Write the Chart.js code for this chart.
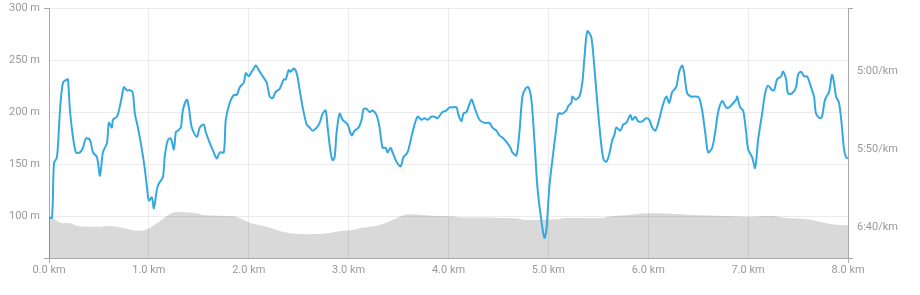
<!DOCTYPE html>
<html>
<head>
<meta charset="utf-8">
<script src="https://cdn.jsdelivr.net/npm/chart.js@4.4.1/dist/chart.umd.min.js"></script>
<style>
  html, body { margin: 0; padding: 0; background: #fff; }
  #wrap { width: 920px; height: 295px; }
</style>
</head>
<body>
<div id="wrap"><canvas id="runChart"></canvas></div>
<script>
// PACE (seconds per km) vs distance
const paceKm = [
  0, 0.03, 0.05, 0.08, 0.11, 0.14, 0.18, 0.19, 0.21, 0.24,
  0.27, 0.31, 0.34, 0.37, 0.41, 0.44, 0.48, 0.51, 0.54, 0.58,
  0.60, 0.63, 0.64, 0.68, 0.70, 0.73, 0.75, 0.78, 0.82, 0.84,
  0.86, 0.89, 0.93, 0.96, 0.98, 1.00, 1.03, 1.05, 1.08, 1.10,
  1.14, 1.16, 1.19, 1.22, 1.25, 1.27, 1.29, 1.32, 1.34, 1.38,
  1.40, 1.43, 1.48, 1.51, 1.55, 1.57, 1.61, 1.65, 1.68, 1.71,
  1.75, 1.77, 1.81, 1.85, 1.88, 1.91, 1.95, 1.97, 2.00, 2.02,
  2.05, 2.07, 2.11, 2.15, 2.18, 2.21, 2.24, 2.27, 2.31, 2.35,
  2.37, 2.40, 2.42, 2.45, 2.48, 2.51, 2.54, 2.58, 2.61, 2.64,
  2.68, 2.71, 2.74, 2.77, 2.79, 2.82, 2.84, 2.86, 2.88, 2.91,
  2.94, 2.99, 3.03, 3.06, 3.10, 3.13, 3.15, 3.18, 3.21, 3.24,
  3.28, 3.31, 3.34, 3.37, 3.39, 3.42, 3.44, 3.48, 3.52, 3.55,
  3.59, 3.64, 3.69, 3.73, 3.76, 3.79, 3.83, 3.86, 3.89, 3.94,
  3.98, 4.01, 4.04, 4.08, 4.10, 4.13, 4.15, 4.18, 4.23, 4.26,
  4.31, 4.36, 4.41, 4.44, 4.48, 4.51, 4.55, 4.59, 4.62, 4.64,
  4.68, 4.71, 4.74, 4.77, 4.80, 4.83, 4.86, 4.89, 4.93, 4.96,
  4.98, 5.01, 5.04, 5.08, 5.10, 5.14, 5.18, 5.20, 5.23, 5.24,
  5.27, 5.31, 5.34, 5.36, 5.39, 5.43, 5.46, 5.49, 5.52, 5.55,
  5.58, 5.61, 5.64, 5.66, 5.68, 5.72, 5.75, 5.78, 5.82, 5.84,
  5.87, 5.90, 5.94, 5.98, 6.01, 6.04, 6.07, 6.10, 6.14, 6.18,
  6.21, 6.24, 6.28, 6.31, 6.34, 6.36, 6.39, 6.43, 6.48, 6.51,
  6.54, 6.57, 6.60, 6.64, 6.67, 6.70, 6.74, 6.78, 6.81, 6.84,
  6.88, 6.89, 6.92, 6.95, 6.98, 7.00, 7.04, 7.07, 7.10, 7.14,
  7.17, 7.20, 7.24, 7.26, 7.29, 7.33, 7.35, 7.38, 7.40, 7.44,
  7.48, 7.50, 7.53, 7.56, 7.59, 7.63, 7.66, 7.68, 7.72, 7.74,
  7.77, 7.81, 7.84, 7.86, 7.88, 7.91, 7.94, 7.96, 7.98, 8.00
];
const paceSec = [
  394, 394, 359, 355, 325, 307, 305, 305, 325, 342,
  352, 352, 349, 343, 344, 352, 355, 367, 352, 346,
  333, 336, 331, 329, 325, 316, 310, 312, 312, 314,
  327, 336, 350, 363, 374, 383, 381, 388, 376, 372,
  368, 354, 344, 343, 350, 339, 338, 336, 325, 318,
  323, 336, 342, 336, 334, 339, 346, 352, 356, 352,
  352, 331, 320, 315, 315, 310, 307, 301, 303, 301,
  298, 296, 300, 304, 307, 316, 317, 313, 311, 305,
  305, 299, 300, 298, 301, 312, 323, 334, 336, 338,
  336, 333, 327, 325, 336, 352, 357, 355, 339, 327,
  331, 334, 341, 338, 336, 331, 324, 324, 326, 325,
  328, 336, 349, 349, 352, 349, 352, 358, 361, 355,
  352, 339, 329, 331, 330, 331, 329, 329, 330, 326,
  325, 323, 323, 323, 328, 332, 327, 326, 318, 323,
  331, 333, 333, 336, 338, 341, 343, 346, 349, 352,
  354, 339, 316, 311, 310, 318, 344, 374, 396, 407,
  402, 374, 357, 336, 327, 327, 325, 322, 320, 316,
  318, 316, 307, 292, 274, 278, 297, 320, 341, 356,
  358, 353, 344, 341, 336, 338, 334, 333, 328, 331,
  329, 332, 332, 330, 331, 336, 338, 333, 323, 316,
  320, 313, 310, 300, 296, 301, 314, 316, 316, 317,
  325, 339, 352, 349, 339, 326, 319, 323, 323, 321,
  318, 316, 323, 325, 339, 350, 355, 362, 344, 327,
  314, 309, 312, 312, 305, 303, 300, 305, 314, 314,
  310, 302, 300, 303, 303, 310, 316, 327, 330, 329,
  318, 313, 302, 307, 316, 320, 336, 350, 355, 356
];

// ELEVATION (m) vs distance
const elevKm = [
  0, 0.04, 0.11, 0.21, 0.29, 0.41, 0.51, 0.61, 0.68, 0.78,
  0.89, 0.98, 1.08, 1.18, 1.24, 1.34, 1.48, 1.54, 1.68, 1.84,
  1.91, 2.01, 2.18, 2.34, 2.51, 2.68, 2.78, 2.94, 3.04, 3.11,
  3.31, 3.44, 3.56, 3.71, 3.84, 4.04, 4.11, 4.44, 4.71, 4.76,
  5.11, 5.16, 5.55, 5.59, 5.79, 5.99, 6.12, 6.45, 6.79, 6.99,
  7.22, 7.39, 7.59, 7.72, 7.85, 8.00
];
const elevM = [
  100, 98.4, 94, 93.3, 90.7, 90, 90, 90.7, 90, 88,
  86.2, 87.6, 93.3, 100.3, 103.5, 103.9, 102.9, 101.3, 100.6, 100,
  98.1, 93.9, 90, 85.2, 83, 83, 83.7, 86.2, 86.9, 88.5,
  91.7, 96.5, 101.3, 101.6, 100.6, 100, 99.1, 98.7, 97.7, 96.5,
  97.4, 98.4, 98.4, 99.6, 101.3, 102.9, 102.9, 101.3, 100.3, 99.6,
  100.3, 98.4, 97.2, 94.8, 92.4, 91.4
];

// AXIS TICKS
const kmTicks = [0, 1, 2, 3, 4, 5, 6, 7, 8];
const elevTicks = [60, 100, 150, 200, 250, 300];
const paceTicks = [259, 300, 350, 400, 420];

const AXIS = "#a8a8a8";
const GRID = "#ebebeb";
const LABEL = "#9a9a9a";

function formatPace(s) {
  const m = Math.floor(s / 60);
  const sec = Math.round(s % 60);
  return m + ":" + String(sec).padStart(2, "0") + "/km";
}

function edgeTick(list) {
  return (ctx) => {
    const v = ctx.tick && ctx.tick.value;
    return v === list[0] || v === list[list.length - 1] ? AXIS : "rgba(0,0,0,0)";
  };
}

function setTicks(list) {
  return (scale) => {
    scale.ticks = list.map((v) => ({ value: v }));
  };
}

// fixed box sizes so the plot area sits where the reference has it
function fixWidth(w) {
  return (scale) => {
    scale.width = w;
    scale.paddingTop = 8;
    scale.paddingBottom = 0;
  };
}

const ctx = document.getElementById("runChart").getContext("2d");
new Chart(ctx, {
  type: "line",
  data: {
    datasets: [
      {
        label: "Pace",
        data: paceKm.map((k, i) => ({ x: k, y: paceSec[i] })),
        yAxisID: "pace",
        borderColor: "#35a8e0",
        borderWidth: 2,
        tension: 0.3,
        pointRadius: 0,
        fill: false,
        order: 0,
      },
      {
        label: "Elevation",
        data: elevKm.map((k, i) => ({ x: k, y: elevM[i] })),
        yAxisID: "elev",
        borderWidth: 0,
        borderColor: "rgba(0,0,0,0)",
        backgroundColor: "rgba(0,0,0,0.15)",
        tension: 0.4,
        pointRadius: 0,
        fill: "start",
        order: 1,
      },
    ],
  },
  options: {
    responsive: true,
    maintainAspectRatio: false,
    animation: false,
    layout: { padding: 0 },
    plugins: {
      legend: { display: false },
      tooltip: { enabled: false },
    },
    scales: {
      x: {
        type: "linear",
        min: 0,
        max: 8,
        afterBuildTicks: setTicks(kmTicks),
        afterFit: (scale) => { scale.height = 37; },
        border: { color: AXIS },
        grid: {
          color: GRID,
          tickLength: 5,
          tickColor: edgeTick(kmTicks),
        },
        ticks: {
          color: LABEL,
          padding: 1,
          maxRotation: 0,
          font: { family: "Roboto", size: 11 },
          callback: (v) => Number(v).toFixed(1) + " km",
        },
      },
      elev: {
        type: "linear",
        position: "left",
        min: 60,
        max: 300,
        afterBuildTicks: setTicks(elevTicks),
        afterFit: fixWidth(49),
        border: { color: AXIS },
        grid: {
          color: GRID,
          tickLength: 5,
          tickColor: edgeTick(elevTicks),
        },
        ticks: {
          color: LABEL,
          padding: 4,
          font: { family: "Roboto", size: 11 },
          callback: (v) => (v === 60 ? "" : v + " m"),
        },
      },
      pace: {
        type: "linear",
        position: "right",
        reverse: true,
        min: 259,
        max: 420,
        afterBuildTicks: setTicks(paceTicks),
        afterFit: fixWidth(72),
        border: { color: AXIS },
        grid: {
          drawOnChartArea: false,
          tickLength: 5,
          color: GRID,
          tickColor: edgeTick(paceTicks),
        },
        ticks: {
          color: LABEL,
          padding: 4,
          font: { family: "Roboto", size: 11 },
          callback: (v) => (v === 259 || v === 420 ? "" : formatPace(v)),
        },
      },
    },
  },
});
</script>
</body>
</html>
